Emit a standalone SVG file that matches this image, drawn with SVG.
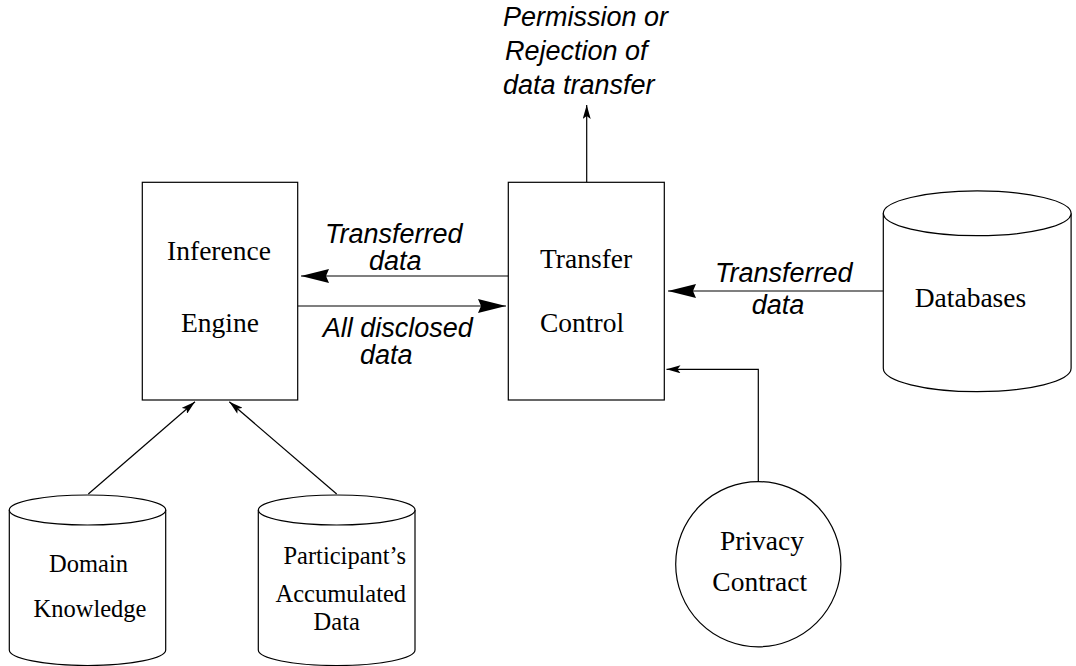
<svg xmlns="http://www.w3.org/2000/svg" width="1076" height="666" viewBox="0 0 1076 666">
<style>
.shape{fill:#fff;stroke:#000;stroke-width:1.2}
.line{fill:none;stroke:#000;stroke-width:1.2}
.serif{font-family:"Liberation Serif","Times New Roman",serif;font-size:27.5px;fill:#000}
.serifs{font-family:"Liberation Serif","Times New Roman",serif;font-size:24.5px;fill:#000}
.lab{font-family:"Liberation Sans",Arial,sans-serif;font-size:27px;font-style:italic;fill:#000}
</style>
<defs>
<marker id="big" markerUnits="userSpaceOnUse" markerWidth="30" markerHeight="14" refX="28" refY="7" orient="auto">
<path d="M0,0 L28,7 L0,14 L3,7 Z" fill="#000"/>
</marker>
<marker id="small" markerUnits="userSpaceOnUse" markerWidth="16" markerHeight="8" refX="14" refY="4" orient="auto">
<path d="M0,0 L14,4 L0,8 L3,4 Z" fill="#000"/>
</marker>
</defs>
<g id="connectors">
<path class="line" d="M586.7,182 L586.7,105" marker-end="url(#small)"/>
<path class="line" d="M508,276 L301,276" marker-end="url(#big)"/>
<path class="line" d="M298,306 L506,306" marker-end="url(#big)"/>
<path class="line" d="M883,291 L668,291" marker-end="url(#big)"/>
<path class="line" d="M758.3,481.7 L758.3,369.3 L666.5,369.3" marker-end="url(#small)"/>
<path class="line" d="M88.3,494 L195,401.7" marker-end="url(#small)"/>
<path class="line" d="M336.7,494 L229.3,401.7" marker-end="url(#small)"/>
<text class="lab" x="503" y="26">Permission or</text>
<text class="lab" x="505" y="60">Rejection of</text>
<text class="lab" x="503" y="94">data transfer</text>
<text class="lab" x="325" y="243">Transferred</text>
<text class="lab" x="369" y="270">data</text>
<text class="lab" x="322.7" y="337">All disclosed</text>
<text class="lab" x="360" y="364">data</text>
<text class="lab" x="715" y="282">Transferred</text>
<text class="lab" x="751.7" y="314">data</text>
</g>
<g id="inference-engine">
<rect class="shape" x="142.3" y="182.3" width="155.4" height="217.7"/>
<text class="serif" x="219" y="260" text-anchor="middle">Inference</text>
<text class="serif" x="220" y="332" text-anchor="middle">Engine</text>
</g>
<g id="transfer-control">
<rect class="shape" x="508.3" y="182.3" width="156" height="217.7"/>
<text class="serif" x="540" y="268">Transfer</text>
<text class="serif" x="540" y="332">Control</text>
</g>
<g id="databases">
<path class="shape" d="M883.3,213.3 L883.3,368.3 A93.9,23.4 0 0 0 1071.1,368.3 L1071.1,213.3"/>
<ellipse class="shape" cx="977.2" cy="213.3" rx="93.9" ry="22.4"/>
<text class="serif" x="970.5" y="307" text-anchor="middle">Databases</text>
</g>
<g id="domain-knowledge">
<path class="shape" d="M9.3,510 L9.3,650 A78.2,15.5 0 0 0 165.7,650 L165.7,510"/>
<ellipse class="shape" cx="87.5" cy="510" rx="78.2" ry="15"/>
<text class="serifs" x="88.5" y="572" text-anchor="middle">Domain</text>
<text class="serifs" x="90" y="617" text-anchor="middle">Knowledge</text>
</g>
<g id="participant-data">
<path class="shape" d="M258.3,510 L258.3,650 A78.3,15.5 0 0 0 415,650 L415,510"/>
<ellipse class="shape" cx="336.7" cy="510" rx="78.3" ry="15"/>
<text class="serifs" x="344.7" y="563.5" text-anchor="middle">Participant’s</text>
<text class="serifs" x="340.8" y="602" text-anchor="middle">Accumulated</text>
<text class="serifs" x="336.7" y="630" text-anchor="middle">Data</text>
</g>
<g id="privacy-contract">
<circle class="shape" cx="758.3" cy="564.2" r="82.6"/>
<text class="serif" x="762" y="550" text-anchor="middle">Privacy</text>
<text class="serif" x="759.7" y="591" text-anchor="middle">Contract</text>
</g>
</svg>
